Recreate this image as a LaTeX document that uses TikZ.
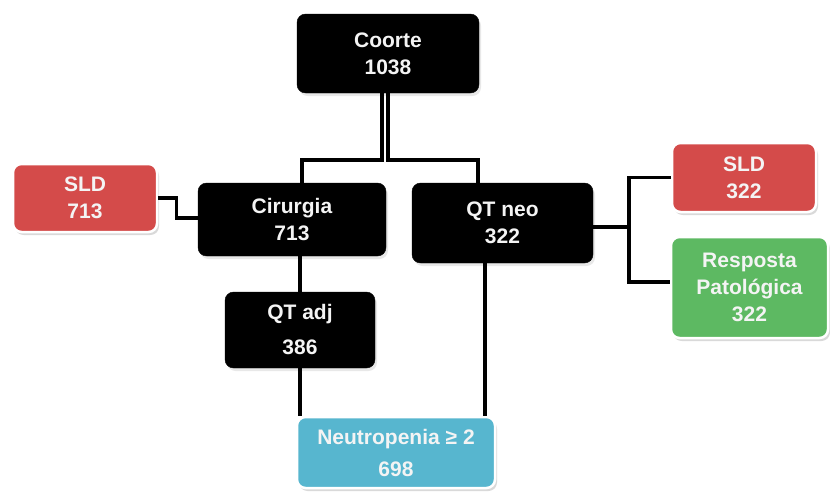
\documentclass[tikz,border=0pt]{standalone}
\usepackage{fontspec}
\setmainfont{Liberation Sans}
\usepackage{tikz}
\usetikzlibrary{positioning,shadows}
\definecolor{BoxRed}{HTML}{D44B4A}
\definecolor{BoxGreen}{HTML}{5DB962}
\definecolor{BoxBlue}{HTML}{57B6CF}
\definecolor{TextWhite}{HTML}{F4F4F4}

\begin{document}
\begin{tikzpicture}[
  x=1pt,y=-1pt,
  every node/.style={font=\bfseries\fontsize{21}{27}\selectfont,align=center,text=TextWhite},
  stage/.style={draw=black,fill=black,rounded corners=3mm,inner sep=0pt,
    drop shadow={shadow xshift=2pt,shadow yshift=-3pt,opacity=0.18}},
  sldbox/.style={draw=white,line width=2.5pt,fill=BoxRed,rounded corners=3mm,inner sep=0pt,
    drop shadow={shadow xshift=2pt,shadow yshift=-3pt,opacity=0.3}},
  respbox/.style={sldbox,fill=BoxGreen},
  toxbox/.style={sldbox,fill=BoxBlue},
  link/.style={line width=3.5pt,draw=black}
]
\useasboundingbox (0,0) rectangle (830,491);
\node[stage,minimum width=182pt,minimum height=79pt] (coorte) at (388,53.5) {Coorte\\1038};
\node[stage,minimum width=188pt,minimum height=73pt] (cir) at (292,219.5) {Cirurgia\\713};
\node[stage,minimum width=181pt,minimum height=80pt] (qtneo) at (502.5,223) {QT neo\\322};
\node[sldbox,minimum width=144pt,minimum height=68pt] (sldL) at (85,198) {SLD\\713};
\node[sldbox,minimum width=144pt,minimum height=69pt] (sldR) at (744,177.5) {SLD\\322};
\node[respbox,minimum width=157pt,minimum height=101pt] (resp) at (749.5,287.5) {Resposta\\Patológica\\322};
\node[stage,minimum width=150pt,minimum height=76pt] (qtadj) at (300,330) {QT adj\\[8pt]386};
\node[toxbox,minimum width=198pt,minimum height=71pt] (neut) at (396,452.5) {Neutropenia ≥ 2\\[5pt]698};
\coordinate (fork) at (629,227);

\begin{scope}[on background layer/.try]
\draw[link] ([xshift=-6pt]coorte.south) -- ++(0,67) -| ([xshift=10pt]cir.north);
\draw[link] ([xshift=0pt]coorte.south) -- ++(0,67) -| ([xshift=-24.5pt]qtneo.north);
\draw[link] (sldL.east) -- ++(18,0) |- ([yshift=1.5pt]cir.west);
\draw[link] ([xshift=8pt]cir.south) -- (qtadj.north);
\draw[link] (qtadj.south) -- (qtadj.south |- neut.north);
\draw[link] ([xshift=-17.5pt]qtneo.south) -- ([xshift=-17.5pt]qtneo.south |- neut.north);
\draw[link] ([yshift=-4pt]qtneo.east) -- (fork);
\draw[link] (sldR.west) -| (fork) |- ([yshift=5.5pt]resp.west);
\end{scope}
\end{tikzpicture}
\end{document}
